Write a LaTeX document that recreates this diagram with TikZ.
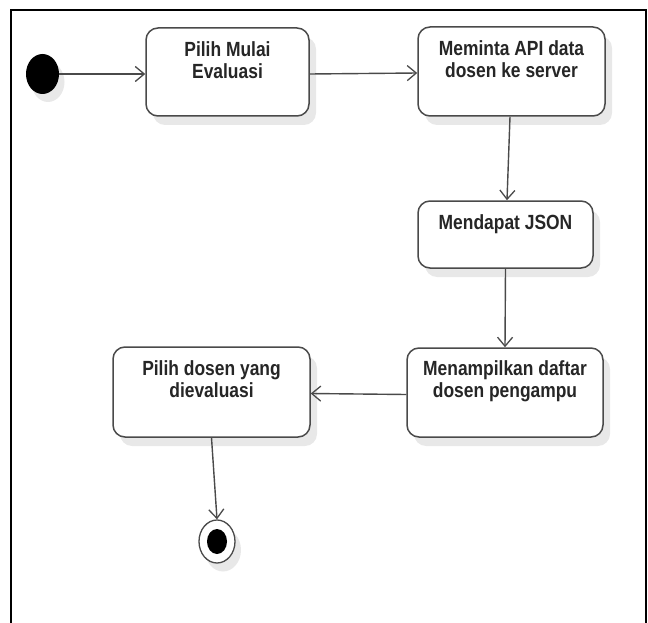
\documentclass[tikz,border=0pt]{standalone}
\usepackage{fontspec}
\setmainfont{Liberation Sans}[FakeStretch=0.85]
\usetikzlibrary{arrows.meta,shadows,shapes.geometric}
\definecolor{edgegray}{HTML}{4A4A4A}
\definecolor{txtgray}{HTML}{262626}
\definecolor{shadegray}{HTML}{E8E8E8}
\tikzset{
  x=1pt, y=-1pt,
  actbox/.style={draw=edgegray, line width=1.5pt, rounded corners=12pt, fill=white,
    inner sep=0pt,
    drop shadow={shadow xshift=7pt, shadow yshift=-9pt, fill=shadegray, opacity=1}},
  acttext/.style={anchor=north, inner sep=0pt, align=center, text=txtgray,
    font=\fontsize{20.5}{22}\selectfont\bfseries},
  flow/.style={draw=edgegray, line width=1.4pt,
    -{Straight Barb[length=9pt,width=15pt,line width=1.3pt]}},
  frameline/.style={draw=black, line width=2pt},
}
\begin{document}
\begin{tikzpicture}
  \useasboundingbox (0,0) rectangle (648,623);

  % outer frame
  \draw[frameline] (11,623) -- (11,10) -- (646,10) -- (646,623);

  % start node
  \fill[shadegray] (48,82) ellipse [x radius=16.5, y radius=20];
  \node[ellipse, minimum width=33pt, minimum height=40pt, inner sep=0pt, fill=black]
    (init) at (42.5,74) {};

  % activity boxes
  \node[actbox, minimum width=163pt, minimum height=88pt] (b1) at (227.5,72) {};
  \node[actbox, minimum width=187pt, minimum height=89pt] (b2) at (511.5,71.5) {};
  \node[actbox, minimum width=175pt, minimum height=67pt] (b3) at (505.5,234.5) {};
  \node[actbox, minimum width=196pt, minimum height=89pt] (b4) at (505,392.5) {};
  \node[actbox, minimum width=197pt, minimum height=90pt] (b5) at (211.5,392) {};

  % box labels
  \node[acttext] (t1) at ([yshift=-14pt]b1.north) {Pilih Mulai\\Evaluasi};
  \node[acttext] (t2) at ([yshift=-14pt]b2.north) {Meminta API data\\dosen ke server};
  \node[acttext] (t3) at ([yshift=-14pt]b3.north) {Mendapat JSON};
  \node[acttext] (t4) at ([yshift=-13.5pt]b4.north) {Menampilkan daftar\\dosen pengampu};
  \node[acttext] (t5) at ([yshift=-14pt]b5.north) {Pilih dosen yang\\dievaluasi};

  % end node
  \fill[shadegray] (223,550) ellipse [x radius=18, y radius=21.5];
  \node[ellipse, minimum width=36pt, minimum height=43pt, inner sep=0pt,
    draw=edgegray, line width=1.3pt, fill=white] (fin) at (217,541.5) {};
  \node[ellipse, minimum width=20pt, minimum height=25pt, inner sep=0pt, fill=black]
    (fincore) at (fin.center) {};

  % control flow
  \draw[flow] (init.east) -- (init.east -| b1.west);
  \draw[flow] ([yshift=-2pt]b1.east) -- ([yshift=-1.5pt]b2.west);
  \draw[flow] ([xshift=-1.5pt]b2.south) -- ([xshift=1.5pt]b3.north);
  \draw[flow] (b3.south) -- (b4.north);
  \draw[flow] ([yshift=-2pt]b4.west) -- ([yshift=-1.5pt]b5.east);
  \draw[flow] (b5.south) -- (fin.north);
\end{tikzpicture}
\end{document}
